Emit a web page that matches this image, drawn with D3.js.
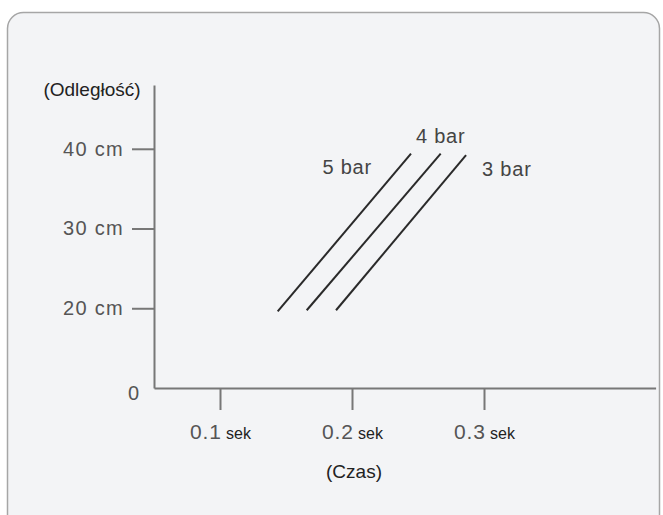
<!DOCTYPE html>
<html>
<head>
<meta charset="utf-8">
<script src="https://cdn.jsdelivr.net/npm/d3@7"></script>
<style>
  body { margin: 0; background: #fff; }
  svg { display: block; }
</style>
</head>
<body>
<svg id="chart"></svg>
<script>
// pressure series, start / end of each line
const series = ["5 bar", "4 bar", "3 bar"];
const startTime = [0.1437, 0.1657, 0.1879];
const startDist = [19.6, 19.75, 19.75];
const endTime = [0.2447, 0.2672, 0.2864];
const endDist = [39.4, 39.4, 39.2];

// axis ticks
const yTicks = [20, 30, 40];
const yTickLabels = ["20 cm", "30 cm", "40 cm"];
const xTicks = [0.1, 0.2, 0.3];
const xTickLabels = ["0.1", "0.2", "0.3"];
const xUnit = "sek";
const yTitle = "(Odległość)";
const xTitle = "(Czas)";

const W = 663, H = 515;

const svg = d3.select("#chart")
  .attr("width", W)
  .attr("height", H)
  .attr("viewBox", [0, 0, W, H]);

// panel
svg.append("rect")
  .attr("x", 7.5).attr("y", 12.5)
  .attr("width", 652).attr("height", 530)
  .attr("rx", 16)
  .attr("fill", "#f3f4f6")
  .attr("stroke", "#a6a6a6")
  .attr("stroke-width", 1.5);

const x = d3.scaleLinear().domain([0.05, 0.43]).range([154, 655.6]);
const y = d3.scaleLinear().domain([10, 48]).range([388, 85]);

// y axis
const gy = svg.append("g")
  .attr("transform", `translate(${x(0.05)},0)`)
  .call(d3.axisLeft(y)
    .tickValues(yTicks)
    .tickSize(22)
    .tickSizeOuter(0)
    .tickPadding(8)
    .tickFormat((d, i) => yTickLabels[i]));

gy.select(".domain").attr("stroke", "#777").attr("stroke-width", 2);
gy.selectAll(".tick line").attr("stroke", "#777").attr("stroke-width", 2);
gy.selectAll(".tick text")
  .attr("fill", "#555")
  .style("font", "20px 'Liberation Sans', Arial, sans-serif")
  .style("letter-spacing", "1.3px");

// "0" at origin, no tick
svg.append("text")
  .attr("x", 139).attr("y", y(10) + 5)
  .attr("dy", "0.35em")
  .attr("text-anchor", "end")
  .attr("fill", "#555")
  .style("font", "20px 'Liberation Sans', Arial, sans-serif")
  .text("0");

// x axis
const gx = svg.append("g")
  .attr("transform", `translate(0,${y(10)})`)
  .call(d3.axisBottom(x)
    .tickValues(xTicks)
    .tickSize(22)
    .tickSizeOuter(0)
    .tickFormat(""));

gx.select(".domain").attr("stroke", "#777").attr("stroke-width", 2);
gx.selectAll(".tick line").attr("stroke", "#777").attr("stroke-width", 2);

const xt = gx.selectAll(".tick text")
  .attr("y", 51)
  .attr("dy", 0)
  .attr("text-anchor", "middle");
xt.append("tspan")
  .attr("fill", "#555")
  .style("font", "21px 'Liberation Sans', Arial, sans-serif")
  .style("letter-spacing", "0.8px")
  .text((d, i) => xTickLabels[i]);
xt.append("tspan")
  .attr("fill", "#222")
  .style("font", "16px 'Liberation Sans', Arial, sans-serif")
  .text(" " + xUnit);

// axis titles
svg.append("text")
  .attr("x", 92).attr("y", 96)
  .attr("text-anchor", "middle")
  .attr("fill", "#222")
  .style("font", "19px 'Liberation Sans', Arial, sans-serif")
  .text(yTitle);

svg.append("text")
  .attr("x", 354).attr("y", 478)
  .attr("text-anchor", "middle")
  .attr("fill", "#222")
  .style("font", "19px 'Liberation Sans', Arial, sans-serif")
  .text(xTitle);

// lines
const lines = series.map((s, i) => ({
  name: s,
  pts: [[startTime[i], startDist[i]], [endTime[i], endDist[i]]]
}));

const line = d3.line().x(d => x(d[0])).y(d => y(d[1]));

svg.append("g")
  .selectAll("path")
  .data(lines)
  .join("path")
  .attr("d", d => line(d.pts))
  .attr("fill", "none")
  .attr("stroke", "#2a2a2a")
  .attr("stroke-width", 2);

// series labels near the top end of each line
const labelPlace = [
  { dx: -39, dy: 20, anchor: "end" },
  { dx: 0, dy: -11, anchor: "middle" },
  { dx: 16, dy: 21, anchor: "start" }
];

svg.append("g")
  .selectAll("text")
  .data(lines)
  .join("text")
  .attr("x", (d, i) => x(d.pts[1][0]) + labelPlace[i].dx)
  .attr("y", (d, i) => y(d.pts[1][1]) + labelPlace[i].dy)
  .attr("text-anchor", (d, i) => labelPlace[i].anchor)
  .attr("fill", "#444")
  .style("font", "20px 'Liberation Sans', Arial, sans-serif")
  .style("letter-spacing", "0.8px")
  .text(d => d.name);
</script>
</body>
</html>
